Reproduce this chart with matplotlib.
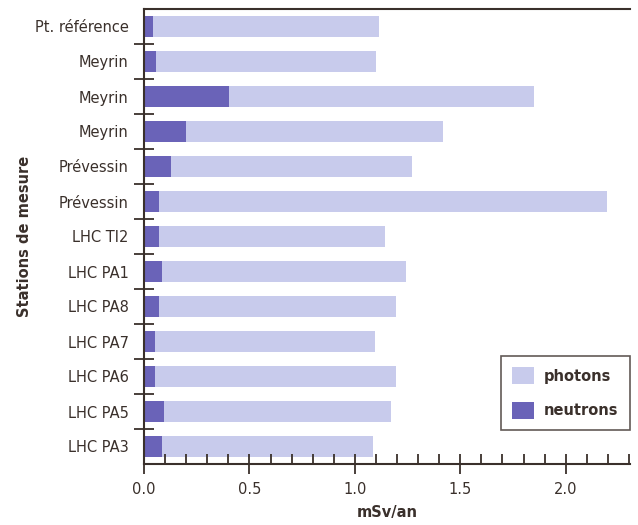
import matplotlib
matplotlib.use("Agg")
import matplotlib.pyplot as plt
import numpy as np
from matplotlib.ticker import MultipleLocator, FixedLocator

stations = ["Pt. référence", "Meyrin", "Meyrin", "Meyrin", "Prévessin", "Prévessin",
            "LHC TI2", "LHC PA1", "LHC PA8", "LHC PA7", "LHC PA6", "LHC PA5", "LHC PA3"]
neutrons = [0.044, 0.057, 0.405, 0.20, 0.13, 0.073, 0.073, 0.085, 0.071, 0.052, 0.052, 0.093, 0.085]
totals = [1.115, 1.10, 1.85, 1.42, 1.27, 2.196, 1.145, 1.243, 1.195, 1.094, 1.195, 1.173, 1.088]
photons = [t - n for t, n in zip(totals, neutrons)]
xticks = [0.0, 0.5, 1.0, 1.5, 2.0]

c_ph = "#c8cbec"
c_ne = "#6a63b8"
c_txt = "#3a302b"

fig = plt.figure(figsize=(6.38, 5.25), dpi=100)
ax = fig.add_axes([144/638, 1 - 464/525, (630-144)/638, (464-9)/525])

y = np.arange(len(stations))
ax.barh(y, neutrons, height=0.6, color=c_ne, label="neutrons")
ax.barh(y, photons, left=neutrons, height=0.6, color=c_ph, label="photons")

ax.set_ylim(len(stations) - 0.5, -0.5)
ax.set_yticks(y)
ax.set_yticklabels(stations, fontsize=10.5, color=c_txt)
ax.tick_params(axis="y", which="major", length=0, pad=11)
ax.yaxis.set_minor_locator(FixedLocator(np.arange(0.5, len(stations) - 0.5, 1)))
ax.tick_params(axis="y", which="minor", direction="inout", length=14, width=1.3, color=c_txt)

ax.set_xticks(xticks)
ax.set_xticklabels([f"{v:.1f}" for v in xticks])
ax.xaxis.set_minor_locator(MultipleLocator(0.1))
ax.tick_params(axis="x", which="major", direction="inout", length=14, width=1.3,
               color=c_txt, labelsize=10.5, labelcolor=c_txt, pad=6)
ax.tick_params(axis="x", which="minor", direction="in", length=7, width=1.3, color=c_txt)
ax.set_xlim(0, 2.305)

for s in ["left", "bottom", "top"]:
    ax.spines[s].set_color(c_txt)
    ax.spines[s].set_linewidth(1.5)
ax.spines["right"].set_visible(False)

ax.set_xlabel("mSv/an", fontsize=10.5, fontweight="bold", color=c_txt, labelpad=6)
ax.set_ylabel("Stations de mesure", fontsize=10.5, fontweight="bold", color=c_txt, labelpad=2)

h, l = ax.get_legend_handles_labels()
leg = ax.legend(h[::-1], l[::-1], loc="lower right", bbox_to_anchor=(1.0, 0.074),
                borderaxespad=0, frameon=True, fancybox=False, edgecolor=c_txt,
                prop={"weight": "bold", "size": 10.5}, handlelength=1.45, handleheight=1.4,
                borderpad=0.8, labelspacing=1.2, handletextpad=0.7)
leg.get_frame().set_linewidth(1.2)
for t in leg.get_texts():
    t.set_color(c_txt)

fig.savefig("out.png", dpi=100)
